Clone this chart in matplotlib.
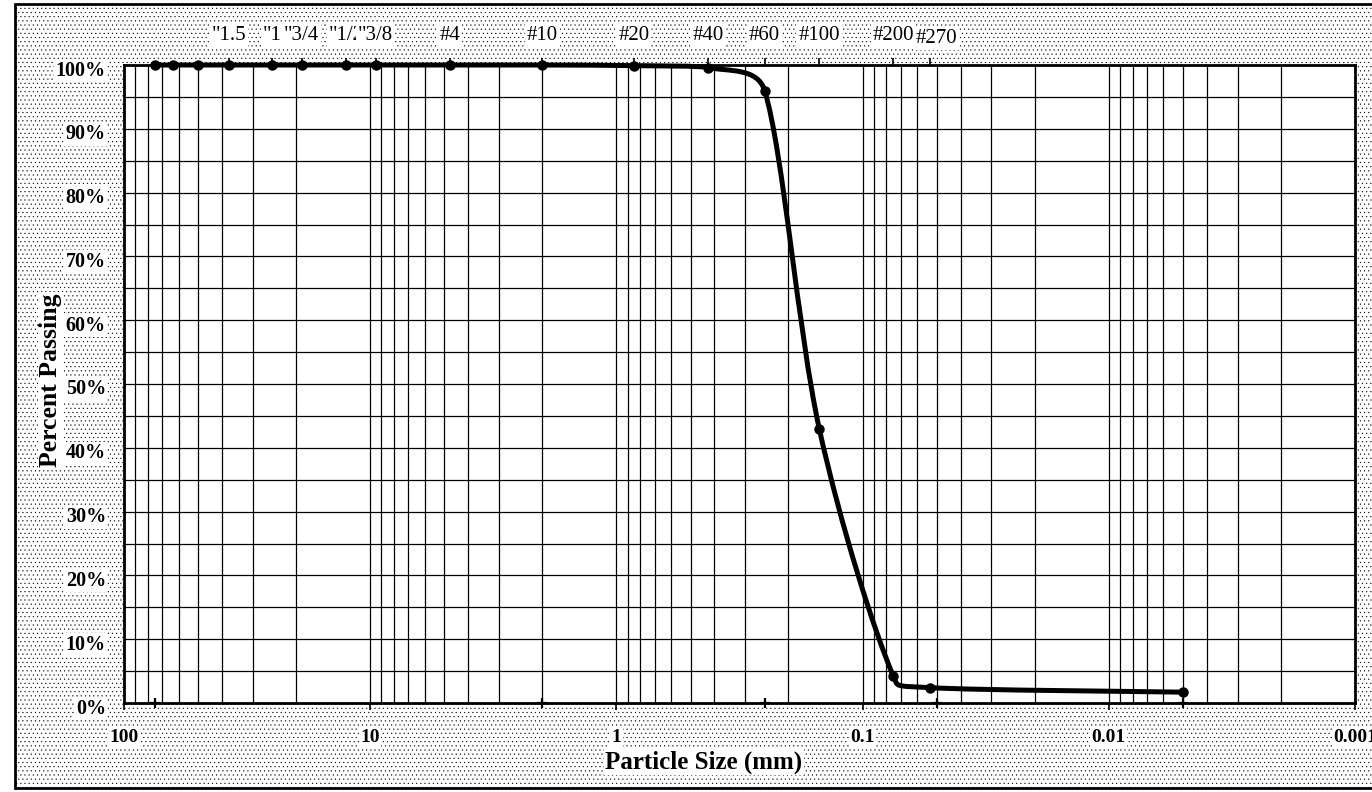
"""Grain size distribution (sieve + hydrometer) redrawn as a semi-log gradation curve."""
import numpy as np
import matplotlib
matplotlib.use("Agg")
import matplotlib.pyplot as plt
from matplotlib.patches import Rectangle, PathPatch
from matplotlib.path import Path
from matplotlib.ticker import LogLocator, FixedLocator, NullFormatter, FuncFormatter
import matplotlib.transforms as mtrans

# sieve / hydrometer sizes (mm) and percent passing
sizes_mm = [75, 63, 50, 37.5, 25, 19, 12.5, 9.5, 4.75, 2.0, 0.85, 0.425, 0.25, 0.15, 0.075, 0.053, 0.005]
pct_passing = [100, 100, 100, 100, 100, 100, 100, 100, 100, 100, 99.9, 99.6, 96, 43, 4.2, 2.4, 1.7]

# sieve names along the top
sieve_names = ['"1.5', '"1', '"3/4', '"1/2', '"3/8', '#4', '#10', '#20', '#40', '#60', '#100', '#200', '#270']
sieve_mm = [37.5, 25, 19, 12.5, 9.5, 4.75, 2.0, 0.85, 0.425, 0.25, 0.15, 0.075, 0.053]

# the small crosses sitting on the 0% line
zero_marks_mm = [75, 2.0, 0.25, 0.05, 0.005]
zero_marks_pct = [0, 0, 0, 0, 0]

x_ticks = [100, 10, 1, 0.1, 0.01, 0.001]
x_ticklabels = ["100", "10", "1", "0.1", "0.01", "0.001"]

plt.rcParams["font.family"] = ["Liberation Serif", "DejaVu Serif"]
plt.rcParams["hatch.color"] = "#6e6e6e"
plt.rcParams["hatch.linewidth"] = 0.3

W, H = 1372, 792
fig = plt.figure(figsize=(W / 100, H / 100), dpi=100, facecolor="white")

# stippled page background with a black frame
bg = Rectangle((15 / W, 4 / H), 1.2, 1 - 8 / H, transform=fig.transFigure,
               facecolor="white", edgecolor="black", lw=2, hatch="....", zorder=-10)
fig.patches.append(bg)

ax = fig.add_axes([124 / W, 1 - 703 / H, (1355 - 124) / W, (703 - 65) / H])
ax.set_facecolor("white")
ax.set_xscale("log")
ax.set_xlim(100, 0.001)
ax.set_ylim(0, 100)

# grid: every 1..9 x 10^k vertically, every 5% horizontally
ax.xaxis.set_major_locator(FixedLocator(x_ticks))
ax.xaxis.set_minor_locator(LogLocator(base=10, subs=np.arange(2, 10), numticks=20))
ax.xaxis.set_minor_formatter(NullFormatter())
ax.set_xticklabels(x_ticklabels)
ax.set_yticks(np.arange(0, 101, 10))
ax.set_yticks(np.arange(5, 100, 10), minor=True)
ax.yaxis.set_major_formatter(FuncFormatter(lambda v, _: f"{v:.0f}%"))
ax.grid(True, which="both", color="black", lw=0.9, zorder=0)

ax.tick_params(axis="x", which="major", direction="out", length=5, width=1.2, pad=14,
               labelsize=14)
ax.tick_params(axis="x", which="minor", length=0)
ax.tick_params(axis="y", which="both", length=0, pad=13, labelsize=14.5)
down = mtrans.ScaledTranslation(0, -3 / 100, fig.dpi_scale_trans)
for lab in ax.get_xticklabels() + ax.get_yticklabels():
    lab.set_fontweight("bold")
    lab.set_bbox(dict(fc="white", ec="none", pad=1))
for lab in ax.get_yticklabels():
    lab.set_transform(lab.get_transform() + down)
for s in ax.spines.values():
    s.set_linewidth(2)
    s.set_zorder(4)

ax.set_xlabel("Particle Size (mm)", fontsize=18, fontweight="bold",
              bbox=dict(fc="white", ec="none", pad=1))
ax.xaxis.set_label_coords((704 - 124) / 1231, -0.074)
ax.set_ylabel("Percent Passing", fontsize=18.5, fontweight="bold",
              bbox=dict(fc="white", ec="none", pad=1))
ax.yaxis.set_label_coords((62 - 124) / 1231, 0.506)

# sieve ticks and names along the top
top = ax.secondary_xaxis("top")
top.set_xticks(sieve_mm)
top.set_xticklabels([""] * len(sieve_mm))
top.xaxis.set_minor_locator(FixedLocator([]))
top.tick_params(direction="out", length=5, width=1.2)
top.spines["top"].set_visible(False)
lab_tr = mtrans.blended_transform_factory(ax.transData, fig.transFigure)
nudge = mtrans.ScaledTranslation(6 / 100, -3 / 100, fig.dpi_scale_trans)
for name, mm in zip(sieve_names, sieve_mm):
    tr = lab_tr + nudge if name == "#270" else lab_tr
    ax.text(mm, 0.955, name, transform=tr, ha="center", va="center", fontsize=15,
            bbox=dict(fc="white", ec="none", pad=1.5), clip_on=False)

# smoothed gradation curve: Catmull-Rom bezier in (log size, %) space, with the
# handles shrunk so they stay inside each segment's box (no overshoot)
pts = np.column_stack([np.log10(sizes_mm), pct_passing])
n = len(pts)


def fit_handle(vec, seg):
    k = 1.0
    for j in range(2):
        if abs(vec[j]) > abs(seg[j]) > 0:
            k = min(k, abs(seg[j]) / abs(vec[j]))
    return vec * k


verts, codes = [tuple(pts[0])], [Path.MOVETO]
for i in range(n - 1):
    p0, p1 = pts[max(i - 1, 0)], pts[i]
    p2, p3 = pts[i + 1], pts[min(i + 2, n - 1)]
    seg = p2 - p1
    h1 = fit_handle((p2 - p0) / 6, seg)
    h2 = fit_handle((p3 - p1) / 6, seg)
    if seg[1] == 0:
        h1 = np.array([h1[0] if h1[0] else seg[0] / 3, 0.0])
        h2 = np.array([h2[0] if h2[0] else seg[0] / 3, 0.0])
    verts += [tuple(p1 + h1), tuple(p2 - h2), tuple(p2)]
    codes += [Path.CURVE4] * 3
verts = [(10 ** vx, vy) for vx, vy in verts]
ax.add_patch(PathPatch(Path(verts, codes), fc="none", ec="black", lw=3.6,
                       transform=ax.transData, zorder=5, clip_on=False,
                       capstyle="round", joinstyle="round"))
ax.plot(sizes_mm, pct_passing, "o", color="black", ms=6.5, zorder=6, clip_on=False)
ax.plot(zero_marks_mm, zero_marks_pct, "+", color="black", ms=7, mew=1.6, zorder=6,
        clip_on=False)

fig.savefig("out.png", dpi=100, facecolor="white")
